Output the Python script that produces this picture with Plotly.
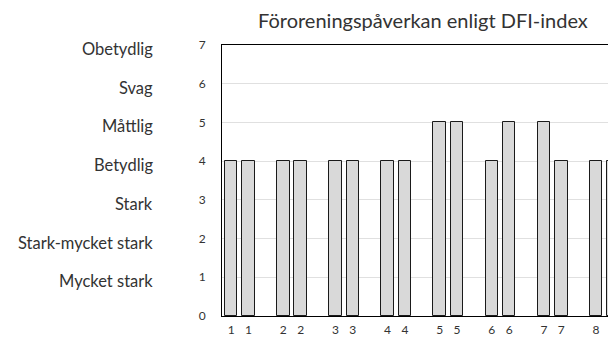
import plotly.graph_objects as go

title = "Föroreningspåverkan enligt DFI-index"
bar_labels = ["1", "1", "2", "2", "3", "3", "4", "4", "5", "5", "6", "6", "7", "7", "8", "8"]
values = [4, 4, 4, 4, 4, 4, 4, 4, 5, 5, 4, 5, 5, 4, 4, 4]
class_names = ["Obetydlig", "Svag", "Måttlig", "Betydlig", "Stark", "Stark-mycket stark", "Mycket stark"]
class_levels = [7, 6, 5, 4, 3, 2, 1]

# positions: pairs separated by an empty slot
xpos = [(i // 2) * 3 + (i % 2) for i in range(len(values))]

OFF = 8  # page body margin
W, H = 616 - OFF, 343 - OFF
L, R, T, B = 222 - OFF, 0, 45 - OFF, 343 - 316
font = "Lato, Open Sans, sans-serif"
PW = W - L - R

fig = go.Figure(go.Bar(
    x=xpos, y=values, width=0.72,
    marker=dict(color="#d9d9d9", line=dict(color="#1a1a1a", width=1)),
    showlegend=False,
))

annotations = []
for name, lvl in zip(class_names, class_levels):
    annotations.append(dict(
        text=name, xref="paper", yref="y", x=(155 - 222) / PW, y=lvl,
        xanchor="right", yanchor="middle", yshift=-4, showarrow=False,
        font=dict(family=font, size=16.5, color="#333333"),
    ))
annotations.append(dict(
    text=title, xref="paper", yref="paper", x=(423 - 222) / PW, y=1,
    xanchor="center", yanchor="bottom", yshift=11, showarrow=False,
    font=dict(family=font, size=20, color="#333333"),
))

fig.update_layout(
    width=W, height=H,
    margin=dict(l=L, r=R, t=T, b=B),
    paper_bgcolor="white", plot_bgcolor="white",
    bargap=0,
    annotations=annotations,
    xaxis=dict(
        range=[-0.53, 22.15], tickvals=xpos, ticktext=bar_labels,
        showgrid=False, zeroline=False, showline=True, linecolor="#000000",
        linewidth=1, mirror=True, ticks="", ticklabelstandoff=3,
        ticklabeloverflow="allow",
        tickfont=dict(family=font, size=12, color="#333333"),
    ),
    yaxis=dict(
        range=[0, 7], dtick=1, showgrid=True, gridcolor="#e0e0e0", gridwidth=1,
        zeroline=False, showline=True, linecolor="#000000", linewidth=1,
        ticks="", ticklabelstandoff=13,
        tickfont=dict(family=font, size=12, color="#333333"),
    ),
)

fig.write_html("out.html")
